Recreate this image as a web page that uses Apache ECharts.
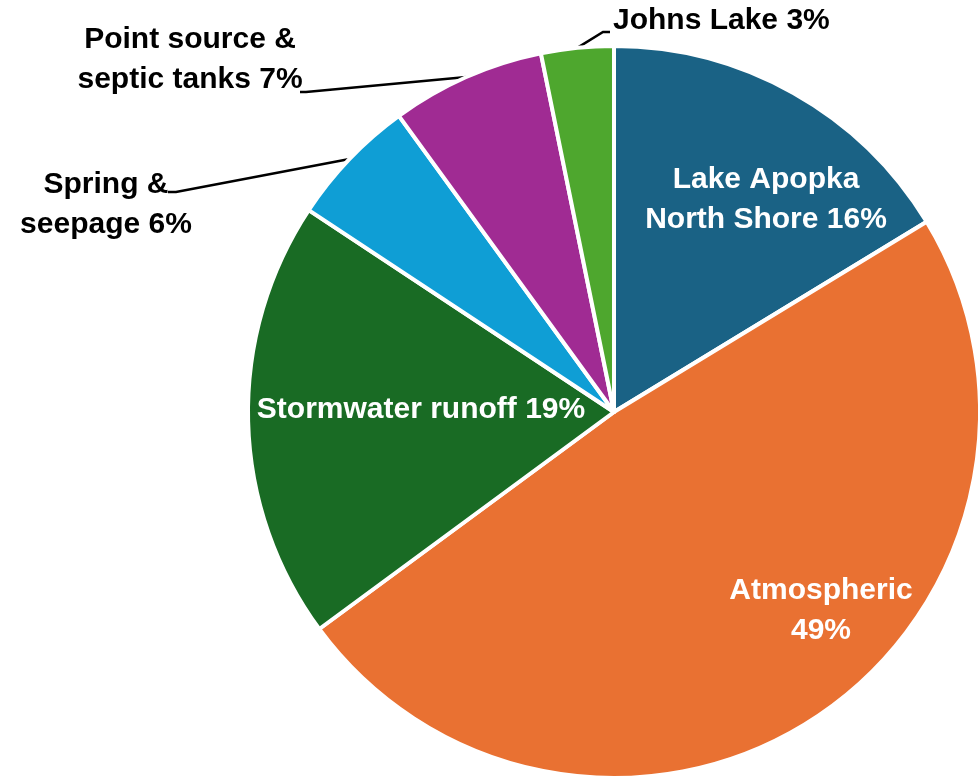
<!DOCTYPE html>
<html><head><meta charset="utf-8">
<script src="https://cdn.jsdelivr.net/npm/echarts@6/dist/echarts.min.js"></script>
<style>html,body{margin:0;padding:0;background:#fff}#c{width:978px;height:781px}</style>
</head><body><div id="c"></div>
<script>
// Data
const categories = ['Lake Apopka\nNorth Shore', 'Atmospheric', 'Stormwater runoff', 'Spring &\nseepage', 'Point source &\nseptic tanks', 'Johns Lake'];
const values = [16.3, 48.6, 19.4, 5.7, 6.8, 3.2];
const separators = [' ', '\n', ' ', ' ', ' ', ' '];

// Styles / layout
const colors = ['#1A6285', '#E97132', '#196B24', '#0F9ED5', '#A02B93', '#4EA72E'];
const inside = [true, true, true, false, false, false];
const labelAnchors = [
  {x: 766, y: 200, align: 'center'},
  {x: 821, y: 611, align: 'center'},
  {x: 421, y: 410, align: 'center'},
  {x: 106, y: 205, align: 'center', line: [[176, 192], [168, 192]]},
  {x: 190, y: 60, align: 'center', line: [[306, 92], [300, 92]]},
  {x: 613, y: 21, align: 'left', line: [[603, 32], [610, 32]]}
];
const FONT = '"Liberation Sans", Arial, sans-serif';

const chart = echarts.init(document.getElementById('c'), null, {renderer: 'canvas'});
chart.setOption({
  animation: false,
  series: [{
    type: 'pie',
    center: [614, 412],
    radius: 366,
    startAngle: 90,
    clockwise: true,
    percentPrecision: 0,
    avoidLabelOverlap: false,
    itemStyle: {borderColor: '#ffffff', borderWidth: 4},
    emphasis: {disabled: true},
    label: {
      fontFamily: FONT,
      fontWeight: 'bold',
      fontSize: 30,
      lineHeight: 40,
      formatter: function (p) { return p.name + separators[p.dataIndex] + p.percent + '%'; }
    },
    labelLine: {lineStyle: {color: '#000000', width: 2.5}},
    labelLayout: function (p) {
      const a = labelAnchors[p.dataIndex];
      const out = {x: a.x, y: a.y, align: a.align, verticalAlign: 'middle'};
      if (a.line && p.labelLinePoints) {
        out.labelLinePoints = [p.labelLinePoints[0], a.line[0], a.line[1]];
      }
      return out;
    },
    data: categories.map(function (name, i) {
      return {
        name: name,
        value: values[i],
        itemStyle: {color: colors[i]},
        label: {position: inside[i] ? 'inside' : 'outside', color: inside[i] ? '#ffffff' : '#000000', align: 'center'},
        labelLine: {show: !inside[i]}
      };
    })
  }]
});
</script>
</body></html>
